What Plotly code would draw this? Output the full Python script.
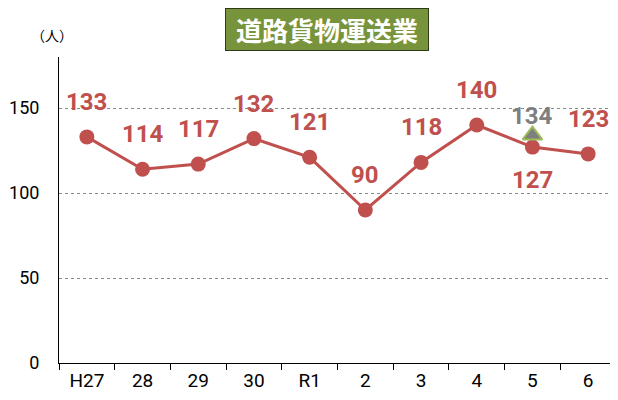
import plotly.graph_objects as go

categories = ["H27", "28", "29", "30", "R1", "2", "3", "4", "5", "6"]
values = [133, 114, 117, 132, 121, 90, 118, 140, 127, 123]
label_shift = [35, 35, 35, 35, 35, 35, 35, 35, -33, 35]
target_cat = ["5"]
target_val = [134]
y_ticks = [0, 50, 100, 150]

red = "#C0504D"
font_family = "Roboto, DejaVu Sans Condensed, sans-serif"

# page has an 8px body margin around the figure div
OFF = 8
W, H = 610, 392
ml, mr, mt, mb = 51, 2, 49, 37
pw, ph = W - ml - mr, H - mt - mb


def px(xp, yp):
    return (xp - OFF - ml) / pw, (H - mb - (yp - OFF)) / ph


fig = go.Figure()
fig.add_trace(go.Scatter(
    x=categories, y=values, mode="lines+markers",
    line=dict(color=red, width=3),
    marker=dict(color=red, size=15),
    hoverinfo="skip", showlegend=False,
))
fig.add_trace(go.Scatter(
    x=target_cat, y=target_val, mode="markers",
    marker=dict(symbol="triangle-up", color="#7F7F7F", size=17,
                line=dict(color="#9BBB59", width=2)),
    hoverinfo="skip", showlegend=False,
))

annotations = []
for i, (v, s) in enumerate(zip(values, label_shift)):
    annotations.append(dict(x=i, y=v, text="<b>%d</b>" % v, showarrow=False, yshift=s,
                            font=dict(color=red, size=24, family=font_family),
                            xref="x", yref="y"))
for c, v in zip(target_cat, target_val):
    annotations.append(dict(x=categories.index(c), y=v, text="<b>%d</b>" % v, showarrow=False,
                            yshift=19, font=dict(color="#7F7F7F", size=24, family=font_family),
                            xref="x", yref="y"))

tx, ty = px(327, 29)
annotations.append(dict(x=tx, y=ty, xref="paper", yref="paper", text="<b>道路貨物運送業</b>",
                        xanchor="center", yanchor="middle", width=196, height=35,
                        showarrow=False, bgcolor="#77933C", bordercolor="#2F3B18",
                        borderwidth=1, borderpad=3,
                        font=dict(color="white", size=26, family="Noto Sans CJK JP")))
ux, uy = px(52, 35)
annotations.append(dict(x=ux, y=uy, xref="paper", yref="paper", text="（人）",
                        xanchor="center", yanchor="middle", showarrow=False,
                        font=dict(color="#000", size=14, family="Noto Sans CJK JP")))

fig.update_layout(
    width=W, height=H,
    margin=dict(l=ml, r=mr, t=mt, b=mb),
    plot_bgcolor="white", paper_bgcolor="white",
    annotations=annotations,
    font=dict(family=font_family, size=19, color="#000"),
    xaxis=dict(type="category", range=[-0.5, 9.5], showgrid=False, showline=True,
               linecolor="#000", linewidth=1, automargin=False,
               ticks="outside", tickson="boundaries", ticklen=6, tickcolor="#000",
               tickangle=0, tickfont=dict(size=19, family=font_family), fixedrange=True),
    yaxis=dict(range=[0, 180], tickvals=y_ticks, showline=True, linecolor="#000", linewidth=1,
               showgrid=True, gridcolor="#888888", griddash="dot", gridwidth=1,
               zeroline=False, ticks="", tickfont=dict(size=18, family=font_family),
               ticklabelstandoff=15, automargin=False),
)

fig.write_html("out.html")
